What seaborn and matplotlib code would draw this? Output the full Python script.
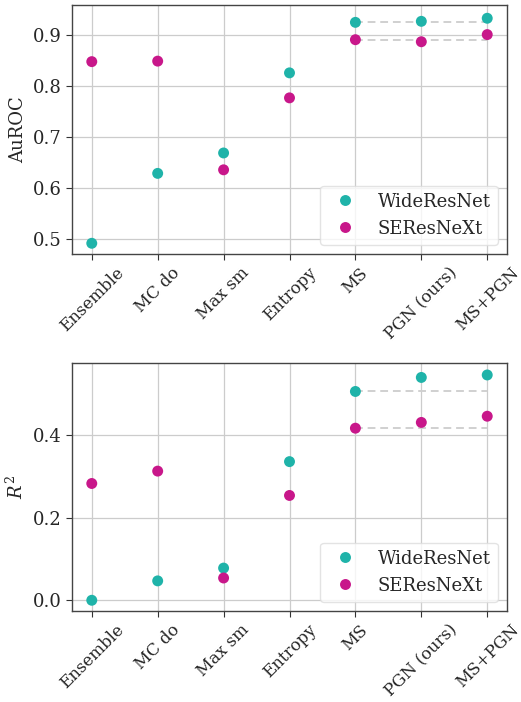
import numpy as np
import pandas as pd
import matplotlib
matplotlib.use('Agg')
import matplotlib.pyplot as plt
import seaborn as sns

methods = ['Ensemble', 'MC do', 'Max sm', 'Entropy', 'MS', 'PGN (ours)', 'MS+PGN']
models = ['WideResNet', 'SEResNeXt']

aurocWrn = [0.492, 0.629, 0.669, 0.826, 0.925, 0.927, 0.933]
aurocSe = [0.848, 0.849, 0.636, 0.777, 0.891, 0.887, 0.901]

r2Wrn = [0.000, 0.047, 0.078, 0.336, 0.506, 0.540, 0.546]
r2Se = [0.283, 0.313, 0.054, 0.254, 0.417, 0.431, 0.446]

colors = ['#1fb3a9', '#c8178a']

sns.set_style('white')
plt.rcParams['font.family'] = ['DejaVu Serif']
plt.rcParams['mathtext.fontset'] = 'dejavuserif'


def makeFrame(wrn, se):
    return pd.DataFrame({
        'method': methods * 2,
        'value': wrn + se,
        'model': [models[0]] * len(methods) + [models[1]] * len(methods),
    })


def drawPanel(ax, wrn, se, ylabel, ylim, yticks):
    df = makeFrame(wrn, se)
    ax.grid(True, color='#cccccc', linewidth=0.9, zorder=0)
    ax.set_axisbelow(True)

    # dashed reference lines from MS to MS+PGN
    msIdx = methods.index('MS')
    lastIdx = len(methods) - 1
    for vals in (wrn, se):
        ax.plot([msIdx, lastIdx], [vals[msIdx], vals[msIdx]], ls='--', color='#d0d0d0',
                lw=1.4, dashes=(4, 2.5), zorder=1)

    sns.scatterplot(data=df, x='method', y='value', hue='model', hue_order=models,
                    palette=colors, s=62, linewidth=0, ax=ax, zorder=3)

    ax.set_xlim(-0.3, len(methods) - 1 + 0.3)
    ax.set_ylim(*ylim)
    ax.set_yticks(yticks)
    ax.set_xlabel('')
    ax.set_ylabel(ylabel, fontsize=13)
    ax.tick_params(axis='both', labelsize=12, length=4, width=0.8, color='#333333',
                   bottom=True, left=True)
    ax.tick_params(axis='y', labelsize=13)
    ax.tick_params(axis='x', labelrotation=45)
    for lbl in ax.get_xticklabels():
        lbl.set_ha('center')
    for sp in ax.spines.values():
        sp.set_color('#444444')
        sp.set_linewidth(1.0)
    leg = ax.legend(loc='lower right', fontsize=13, frameon=True, borderaxespad=0.5)
    leg.get_frame().set_edgecolor('#dddddd')


fig = plt.figure(figsize=(5.21, 7.02), dpi=100)
axTop = fig.add_axes([72 / 521, (702 - 254) / 702, 435 / 521, 249 / 702])
axBot = fig.add_axes([72 / 521, (702 - 611) / 702, 435 / 521, 248 / 702])

drawPanel(axTop, aurocWrn, aurocSe, 'AuROC', (0.471, 0.959), [0.5, 0.6, 0.7, 0.8, 0.9])
drawPanel(axBot, r2Wrn, r2Se, '$R^2$', (-0.026, 0.575), [0.0, 0.2, 0.4])

fig.savefig('out.png', dpi=100)
